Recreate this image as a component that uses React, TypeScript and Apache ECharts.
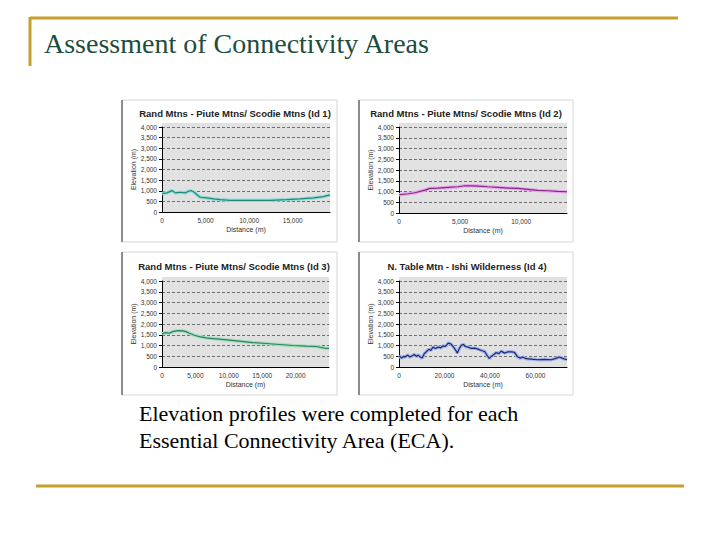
import React, { useEffect, useRef } from "react";
import * as echarts from "echarts";

// ---------- data ----------
const slideTitle = "Assessment of Connectivity Areas";
const bodyLines = [
  "Elevation profiles were completed for each",
  "Essential Connectivity Area (ECA).",
];
const panelTitles = [
  "Rand Mtns - Piute Mtns/ Scodie Mtns (Id 1)",
  "Rand Mtns - Piute Mtns/ Scodie Mtns (Id 2)",
  "Rand Mtns - Piute Mtns/ Scodie Mtns (Id 3)",
  "N. Table Mtn - Ishi Wilderness (Id 4)",
];
const xAxisName = "Distance (m)";
const yAxisName = "Elevation (m)";
const elevMin = 0;
const elevMax = 4000;
const elevStep = 500;
const distSteps = [5000, 5000, 5000, 20000];

const dist1 = [0, 570, 1150, 1530, 2100, 2670, 3050, 3320, 3700, 4080, 4390, 5150, 5920, 6680, 7820, 10500, 12400, 14300, 15840, 17370, 18510, 19280];
const elev1 = [866, 900, 1008, 900, 930, 900, 976, 1008, 929, 787, 693, 661, 614, 583, 551, 551, 551, 583, 614, 661, 724, 803];

const dist2 = [0, 760, 1300, 2120, 2530, 3210, 4020, 4840, 5380, 5920, 6470, 7280, 8100, 8910, 9730, 10540, 11360, 12170, 12990, 13750];
const elev2 = [849, 896, 942, 1066, 1143, 1158, 1189, 1220, 1266, 1266, 1251, 1220, 1189, 1158, 1143, 1097, 1050, 1035, 1004, 988];

const dist3 = [0, 600, 1100, 1600, 2100, 2600, 3100, 3600, 4100, 4850, 5600, 6600, 7600, 8600, 10100, 11600, 13600, 15600, 17600, 19600, 21600, 23100, 23850, 24350, 25000];
const elev3 = [1538, 1600, 1569, 1646, 1677, 1692, 1677, 1646, 1569, 1477, 1415, 1354, 1323, 1292, 1246, 1200, 1138, 1092, 1046, 1000, 969, 954, 908, 877, 862];

const dist4 = [0, 1170, 1900, 2630, 3800, 4820, 5840, 6720, 7740, 8470, 9340, 10220, 11100, 12120, 13140, 14020, 14890, 16060, 17230, 18390, 19420, 20440, 21610, 22770, 23800, 24820, 25690, 26570, 27450, 28320, 29200, 30370, 31830, 33290, 34750, 36200, 37660, 38830, 39710, 40580, 41750, 42770, 43800, 44960, 46420, 47880, 49340, 50800, 51970, 53140, 54310, 55910, 58100, 61020, 63940, 66860, 69050, 70510, 71970, 73870];
const elev4 = [523, 415, 492, 462, 554, 462, 523, 585, 492, 554, 462, 415, 615, 723, 831, 769, 923, 862, 923, 892, 985, 954, 1108, 1077, 954, 800, 646, 877, 1015, 1046, 954, 923, 862, 877, 831, 769, 723, 523, 400, 492, 585, 677, 615, 738, 646, 708, 708, 677, 492, 415, 462, 385, 369, 338, 354, 338, 400, 462, 400, 338];

const distSets = [dist1, dist2, dist3, dist4];
const elevSets = [elev1, elev2, elev3, elev4];

// ---------- styling / layout ----------
const lineColors = ["#1d8a80", "#8a2389", "#23875a", "#1b2878"];
const haloColors = ["#9adbd3", "#e6a9ea", "#a9dcbf", "#a9b7e6"];
const layouts = [
  { frame: [122, 100, 215, 142], grid: [162, 127, 168, 85], tx: 235, ty: 113 },
  { frame: [359, 100, 214, 142], grid: [399, 127, 168, 86], tx: 466, ty: 113 },
  { frame: [122, 252, 215, 143], grid: [162, 281, 167, 86], tx: 234, ty: 266 },
  { frame: [359, 252, 214, 143], grid: [399, 281, 168, 86], tx: 467, ty: 266 },
];
const gold = "#c6a02c";
const sans = '"Liberation Sans", Arial, sans-serif';
const serif = '"Liberation Serif", "Times New Roman", serif';
const fmt = (v: number) => Number(v).toLocaleString("en-US");

export default function App() {
  const ref = useRef<HTMLDivElement>(null);
  useEffect(() => {
    if (!ref.current) return;
    const chart = echarts.init(ref.current, undefined, { renderer: "svg" });

    const grids: any[] = [];
    const xAxes: any[] = [];
    const yAxes: any[] = [];
    const series: any[] = [];
    const graphics: any[] = [];

    // slide decorations
    graphics.push(
      { type: "line", shape: { x1: 30, y1: 18, x2: 678, y2: 18 }, style: { stroke: gold, lineWidth: 3 } },
      { type: "line", shape: { x1: 30, y1: 17, x2: 30, y2: 66 }, style: { stroke: gold, lineWidth: 3 } },
      { type: "line", shape: { x1: 36, y1: 486, x2: 684, y2: 486 }, style: { stroke: gold, lineWidth: 3 } },
      {
        type: "text", x: 44, y: 43,
        style: { text: slideTitle, fontSize: 28, fontFamily: serif, fill: "#1f4d3b", align: "left", verticalAlign: "middle", textAlign: "left", textVerticalAlign: "middle" },
      }
    );
    bodyLines.forEach((t, i) => {
      graphics.push({
        type: "text", x: 139, y: 413 + i * 27,
        style: { text: t, fontSize: 22, fontFamily: serif, fill: "#000", align: "left", verticalAlign: "middle", textAlign: "left", textVerticalAlign: "middle" },
      });
    });

    layouts.forEach((L, i) => {
      const [fx, fy, fw, fh] = L.frame;
      const [gx, gy, gw, gh] = L.grid;
      graphics.push(
        { type: "rect", shape: { x: fx, y: fy, width: fw, height: fh }, style: { fill: "none", stroke: "#d6d6d6", lineWidth: 1 } },
        { type: "line", shape: { x1: fx, y1: fy, x2: fx, y2: fy + fh }, style: { stroke: "#8c8c8c", lineWidth: 2 } },
        { type: "rect", shape: { x: gx, y: gy - 4, width: gw, height: 4 }, style: { fill: "#e1e1e1" } },
        {
          type: "text", x: L.tx, y: L.ty,
          style: { text: panelTitles[i], fontSize: 9.5, fontWeight: "bold", fontFamily: sans, fill: "#222", align: "center", verticalAlign: "middle", textAlign: "center", textVerticalAlign: "middle" },
        }
      );

      grids.push({
        left: gx, top: gy, width: gw, height: gh,
        show: true, backgroundColor: "#e1e1e1", borderWidth: 0,
      });

      const dist = distSets[i];
      const elev = elevSets[i];
      xAxes.push({
        gridIndex: i, type: "value", min: 0, max: dist[dist.length - 1], interval: distSteps[i],
        name: xAxisName, nameLocation: "middle", nameGap: 14,
        nameTextStyle: { fontSize: 7, color: "#333", fontFamily: sans },
        axisLine: { show: true, onZero: false, lineStyle: { color: "#000", width: 1 } },
        axisTick: { show: false },
        axisLabel: { fontSize: 6.5, color: "#333", fontFamily: sans, margin: 5, showMaxLabel: false, formatter: fmt },
        splitLine: { show: false },
      });
      yAxes.push({
        gridIndex: i, type: "value", min: elevMin, max: elevMax, interval: elevStep,
        name: yAxisName, nameLocation: "middle", nameGap: 25, nameRotate: 90,
        nameTextStyle: { fontSize: 7, color: "#333", fontFamily: sans },
        axisLine: { show: true, lineStyle: { color: "#000", width: 1 } },
        axisTick: { show: true, length: 3, lineStyle: { color: "#000" } },
        axisLabel: { fontSize: 6.5, color: "#333", fontFamily: sans, margin: 5, formatter: fmt },
        splitLine: { show: true, lineStyle: { color: "#6e6e6e", type: [3, 2], width: 1 } },
      });

      const pts = dist.map((d, k) => [d, elev[k]]);
      series.push(
        {
          type: "line", xAxisIndex: i, yAxisIndex: i, data: pts, showSymbol: false, silent: true,
          lineStyle: { color: haloColors[i], width: 3.5 }, z: 2,
        },
        {
          type: "line", xAxisIndex: i, yAxisIndex: i, data: pts, showSymbol: false, silent: true,
          lineStyle: { color: lineColors[i], width: 1.2 }, z: 3,
        }
      );
    });

    chart.setOption({
      animation: false,
      backgroundColor: "#ffffff",
      grid: grids,
      xAxis: xAxes,
      yAxis: yAxes,
      series,
      graphic: graphics,
    });
    return () => chart.dispose();
  }, []);

  return (
    <div
      ref={ref}
      style={{ position: "fixed", left: 0, top: 0, width: 720, height: 540, background: "#fff" }}
    />
  );
}
